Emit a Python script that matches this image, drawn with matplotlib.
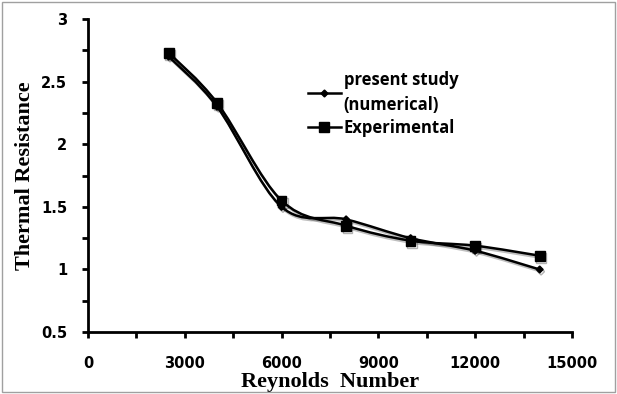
import numpy as np
import matplotlib
matplotlib.use("Agg")
import matplotlib.pyplot as plt
from matplotlib.path import Path
from matplotlib.patches import PathPatch, Rectangle
from matplotlib.lines import Line2D
from matplotlib.ticker import MultipleLocator
import matplotlib.patheffects as pe

reynolds = [2500, 4000, 6000, 8000, 10000, 12000, 14000]
numerical = [2.70, 2.30, 1.50, 1.40, 1.25, 1.15, 1.00]
experimental = [2.73, 2.33, 1.55, 1.35, 1.23, 1.19, 1.11]

x_ticks = [0, 3000, 6000, 9000, 12000, 15000]
y_ticks = [0.5, 1, 1.5, 2, 2.5, 3]
y_tick_labels = ["0.5", "1", "1.5", "2", "2.5", "3"]


def smooth_path(xs, ys):
    """Smoothed line through the points (Bezier segments, Catmull-Rom tangents)."""
    pts = np.column_stack([xs, ys]).astype(float)
    n = len(pts)
    verts = [pts[0]]
    codes = [Path.MOVETO]
    for i in range(n - 1):
        p0 = pts[i - 1] if i > 0 else pts[i]
        p1 = pts[i]
        p2 = pts[i + 1]
        p3 = pts[i + 2] if i + 2 < n else pts[i + 1]
        c1 = p1 + (p2 - p0) / 6.0
        c2 = p2 - (p3 - p1) / 6.0
        verts += [c1, c2, p2]
        codes += [Path.CURVE4] * 3
    return Path(verts, codes)


fig = plt.figure(figsize=(6.17, 3.94), dpi=100)
ax = fig.add_axes([0.1426, 0.157, 0.7844, 0.795])

shadow = [pe.SimpleLineShadow(offset=(1, -1.5), alpha=0.25), pe.Normal()]

for ys, marker, ms in [(numerical, "D", 3.5), (experimental, "s", 7)]:
    patch = PathPatch(smooth_path(reynolds, ys), facecolor="none",
                      edgecolor="black", lw=1.8, zorder=2)
    patch.set_path_effects(shadow)
    ax.add_patch(patch)
    ax.plot(reynolds, ys, linestyle="none", marker=marker, ms=ms,
            color="black", zorder=3,
            path_effects=[pe.SimpleLineShadow(offset=(1, -1.5), alpha=0.3), pe.Normal()])

ax.set_xlim(0, 15000)
ax.set_ylim(0.5, 3)
ax.set_xticks(x_ticks)
ax.set_yticks(y_ticks)
ax.set_yticklabels(y_tick_labels)
ax.xaxis.set_minor_locator(MultipleLocator(1500))
ax.yaxis.set_minor_locator(MultipleLocator(0.25))

for s in ["top", "right"]:
    ax.spines[s].set_visible(False)
for s in ["left", "bottom"]:
    ax.spines[s].set_linewidth(2)

ax.tick_params(which="both", direction="out", width=2, length=4)
ax.tick_params(axis="x", pad=13)
ax.tick_params(axis="y", pad=11)
for lab in ax.get_xticklabels() + ax.get_yticklabels():
    lab.set_fontfamily("DejaVu Sans")
    lab.set_fontweight("bold")
    lab.set_fontsize(10.5)

ax.set_xlabel("Reynolds  Number", fontfamily="Liberation Serif",
              fontweight="bold", fontsize=16, labelpad=1)
ax.set_ylabel("Thermal Resistance", fontfamily="Liberation Serif",
              fontweight="bold", fontsize=16, labelpad=4)

handles = [
    Line2D([], [], color="black", lw=1.8, marker="D", ms=3.5),
    Line2D([], [], color="black", lw=1.8, marker="s", ms=7),
]
leg = ax.legend(handles, ["present study\n(numerical)", "Experimental"],
                loc="upper left", bbox_to_anchor=(0.423, 0.883), frameon=False,
                handlelength=2.0, handletextpad=0.15, labelspacing=0.3,
                prop={"family": "Open Sans", "weight": "bold", "size": 12})
for t in leg.get_texts():
    t.set_linespacing(1.5)

fig.patches.append(Rectangle((0.004, 0.004), 0.992, 0.99, transform=fig.transFigure,
                             fill=False, edgecolor="#a0a0a0", lw=1))

fig.savefig("out.png", dpi=100)
